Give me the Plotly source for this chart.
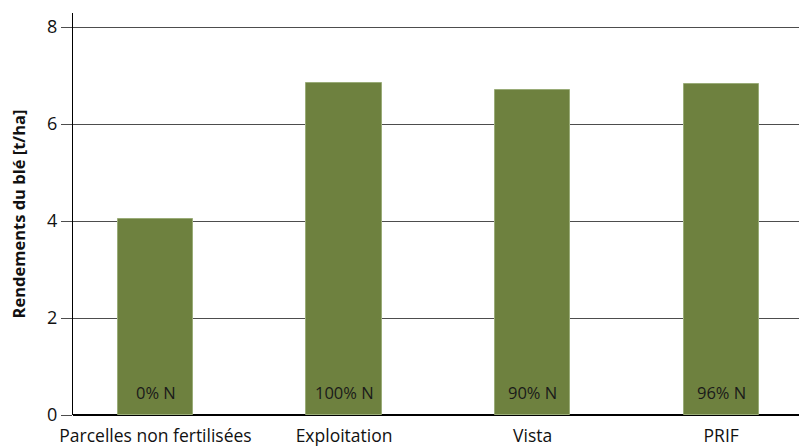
import plotly.graph_objects as go

categories = ["Parcelles non fertilisées", "Exploitation", "Vista", "PRIF"]
yields = [4.04, 6.85, 6.71, 6.83]
n_labels = ["0% N", "100% N", "90% N", "96% N"]
y_ticks = [0, 2, 4, 6, 8]

FONT = "Open Sans"

fig = go.Figure()
fig.add_trace(go.Bar(
    x=list(range(len(categories))),
    y=yields,
    width=0.4,
    marker=dict(color="#6e813f", line=dict(color="#9aac78", width=1)),
    hoverinfo="skip",
))

for i, lab in enumerate(n_labels):
    fig.add_annotation(x=i, y=0.47, text=lab, showarrow=False,
                       xanchor="center", yanchor="middle",
                       font=dict(family=FONT, size=16.5, color="#1a1a1a"))

fig.update_layout(
    width=799, height=446,
    margin=dict(l=73, r=0, t=13, b=31),
    paper_bgcolor="white", plot_bgcolor="white",
    showlegend=False,
    font=dict(family=FONT, size=16, color="#111111"),
    bargap=0,
)
fig.update_xaxes(
    range=[-0.4375, 3.4125],
    tickmode="array", tickvals=list(range(len(categories))), ticktext=categories,
    showgrid=False, showline=False, zeroline=False, ticks="",
    tickfont=dict(family=FONT, size=17.5, color="#111111"),
    ticklabelstandoff=8,
)
fig.update_yaxes(
    range=[0, 8.29],
    tickmode="array", tickvals=y_ticks, ticktext=[str(v) for v in y_ticks],
    showgrid=True, gridcolor="#4d4d4d", gridwidth=1,
    zeroline=True, zerolinecolor="#000000", zerolinewidth=1.5,
    showline=True, linecolor="#000000", linewidth=1,
    ticks="outside", ticklen=11, tickcolor="#4d4d4d",
    tickfont=dict(family=FONT, size=18, color="#111111"),
    title=dict(text="<b>Rendements du blé [t/ha]</b>",
               font=dict(family=FONT, size=16.5, color="#111111"), standoff=17),
)

fig.write_html("out.html")
